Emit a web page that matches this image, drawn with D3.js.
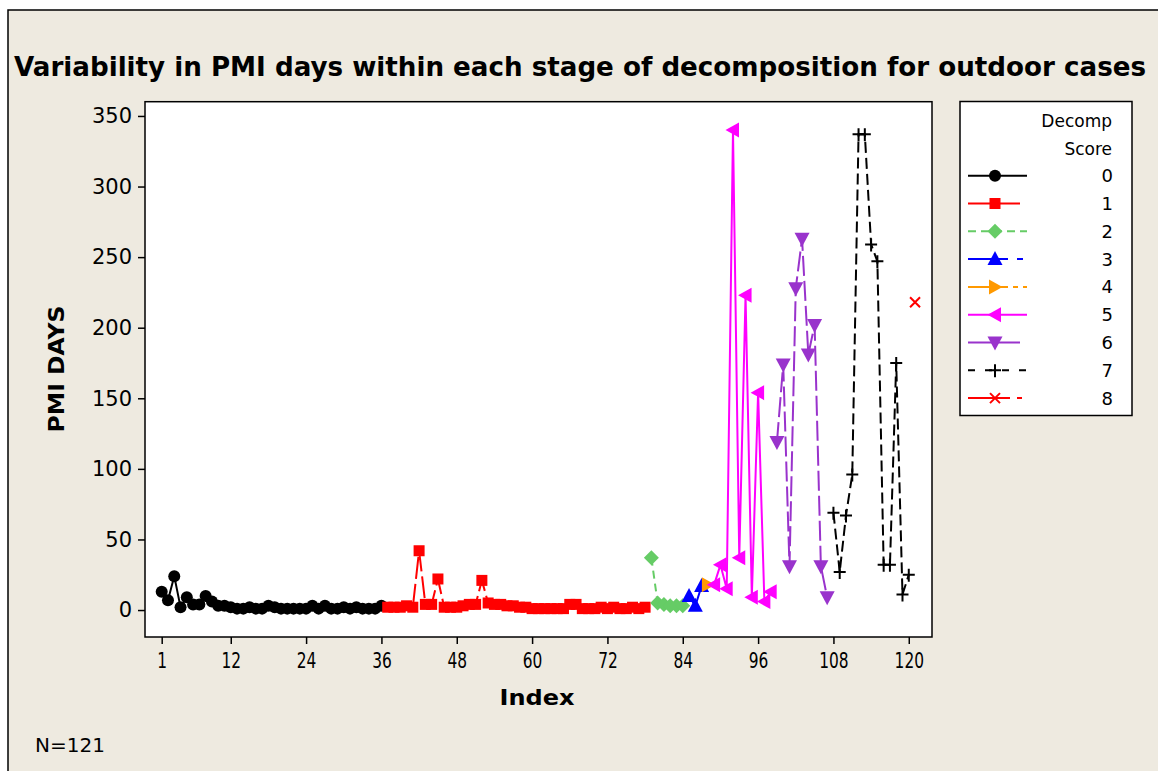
<!DOCTYPE html>
<html><head><meta charset="utf-8">
<script src="https://cdn.jsdelivr.net/npm/d3@7"></script>
<style>body{margin:0;background:#fff} svg{display:block}</style>
</head><body><svg id="c" width="1158" height="771"></svg>
<script>
// ---- data ----
const scores = ["0","1","2","3","4","5","6","7","8"];
const startIndex = [1, 37, 79, 85, 88, 89, 99, 108, 121];
const score0 = [13,7,24,2,9,4,4,10,6,3, 3,2,1,1,2,1,1,3,2,1,1,1,1,1,3,1,3,1,1,2,1,2,1,1,1,3];
const score1 = [2,2,2,3,2,42,4,4,22,2,2,2,3,4,4,21,5,4,4,3,3,2,2,1,1,1,1,1,1,4,4,1,1,1,2,1,2,1,1,2,1,2];
const score2 = [37,5,4,3,3,3];
const score3 = [10,3,17];
const score4 = [18];
const score5 = [18,32,15,340,37,223,9,154,6,13];
const score6 = [119,174,31,228,263,181,202,31,9];
const score7 = [69,27,67,96,337,337,259,247,32,32,175,11,25];
const score8 = [218];
const seriesValues = [score0,score1,score2,score3,score4,score5,score6,score7,score8];
const xTicks = [1,12,24,36,48,60,72,84,96,108,120];
const yTicks = [0,50,100,150,200,250,300,350];
const titleText = "Variability in PMI days within each stage of decomposition for outdoor cases";
const xLabel = "Index", yLabel = "PMI DAYS", noteText = "N=121";

// ---- styles ----
const colors = ["#000000","#FF0000","#66CC66","#0000FF","#FF9900","#FF00FF","#9933CC","#000000","#FF0000"];
const plotDash = [null,"22,5","8,5","40,9,6,9","40,5,5,5",null,"20,5","11,5","42,7,5,7"];
const legendDash = [null,"52,8","8,5","40,9,6,9","40,5,5,5",null,"52,8","7,10","42,7,5,7"];
const font = "'DejaVu Sans', Verdana, sans-serif";

const svg = d3.select("#c");
svg.append("rect").attr("x",8).attr("y",10).attr("width",1170).attr("height",790)
  .attr("fill","#EEEAE0").attr("stroke","#000").attr("stroke-width",1.5);

const L=145,R=932,T=101.7,B=637;
const x = d3.scaleLinear().domain([-1.66,123.7]).range([L,R]);
const y = d3.scaleLinear().domain([-19.1,360.1]).range([B,T]);

svg.append("rect").attr("x",L).attr("y",T).attr("width",R-L).attr("height",B-T)
  .attr("fill","#fff").attr("stroke","#000").attr("stroke-width",1.5);

// title
svg.append("text").attr("x",580).attr("y",76).attr("text-anchor","middle")
  .attr("font-family",font).attr("font-weight","bold").attr("font-size",26)
  .attr("textLength",1132).attr("lengthAdjust","spacingAndGlyphs").text(titleText);

// axes
const xAxis = d3.axisBottom(x).tickValues(xTicks).tickSize(7).tickSizeOuter(0).tickPadding(5);
const gx = svg.append("g").attr("transform",`translate(0,${B})`).call(xAxis);
gx.select(".domain").remove();
gx.selectAll("line").attr("stroke","#000").attr("stroke-width",1.5);
gx.selectAll("text").attr("font-family",font).attr("font-size",22).attr("fill","#000")
  .attr("dy","0.85em")
  .attr("textLength",d=>String(d).length*9.8).attr("lengthAdjust","spacingAndGlyphs");

const yAxis = d3.axisLeft(y).tickValues(yTicks).tickSize(7).tickSizeOuter(0).tickPadding(6);
const gy = svg.append("g").attr("transform",`translate(${L},0)`).call(yAxis);
gy.select(".domain").remove();
gy.selectAll("line").attr("stroke","#000").attr("stroke-width",1.5);
gy.selectAll("text").attr("font-family",font).attr("font-size",21).attr("fill","#000");

svg.append("text").attr("x",537).attr("y",705).attr("text-anchor","middle")
  .attr("font-family",font).attr("font-weight","bold").attr("font-size",22)
  .attr("textLength",75).attr("lengthAdjust","spacingAndGlyphs").text(xLabel);
svg.append("text").attr("transform","translate(64,369) rotate(-90)").attr("text-anchor","middle")
  .attr("font-family",font).attr("font-weight","bold").attr("font-size",22)
  .attr("textLength",127).attr("lengthAdjust","spacingAndGlyphs").text(yLabel);
svg.append("text").attr("x",35).attr("y",752)
  .attr("font-family",font).attr("font-size",20).attr("textLength",70)
  .attr("lengthAdjust","spacingAndGlyphs").text(noteText);

// marker drawing
function marker(g, k, cx, cy){
  const c = colors[k];
  const s = g.append("g").attr("transform",`translate(${cx},${cy})`);
  switch(k){
    case 0: s.append("circle").attr("r",6).attr("fill",c); break;
    case 1: s.append("rect").attr("x",-5.5).attr("y",-5.5).attr("width",11).attr("height",11).attr("fill",c); break;
    case 2: s.append("path").attr("d","M0,-7.5L7.5,0L0,7.5L-7.5,0Z").attr("fill",c); break;
    case 3: s.append("path").attr("d","M0,-8L7.5,6L-7.5,6Z").attr("fill",c); break;
    case 4: s.append("path").attr("d","M7.5,0L-6,-7.5L-6,7.5Z").attr("fill",c); break;
    case 5: s.append("path").attr("d","M-7.5,0L6,-7.5L6,7.5Z").attr("fill",c); break;
    case 6: s.append("path").attr("d","M0,8L7.5,-6L-7.5,-6Z").attr("fill",c); break;
    case 7: s.append("path").attr("d","M-6,0L6,0M0,-6L0,7").attr("stroke",c).attr("stroke-width",2).attr("fill","none"); break;
    case 8: s.append("path").attr("d","M-5,-5L5,5M-5,5L5,-5").attr("stroke",c).attr("stroke-width",2).attr("fill","none"); break;
  }
}

// series
const line = d3.line().x(d=>x(d[0])).y(d=>y(d[1]));
const plot = svg.append("g");
seriesValues.forEach((vals,k)=>{
  const pts = vals.map((v,i)=>[startIndex[k]+i, v]);
  if(pts.length>1){
    plot.append("path").datum(pts).attr("d",line).attr("fill","none")
      .attr("stroke",colors[k]).attr("stroke-width",2)
      .attr("stroke-dasharray",plotDash[k]);
  }
});
seriesValues.forEach((vals,k)=>{
  vals.forEach((v,i)=>marker(plot,k,x(startIndex[k]+i),y(v)));
});

// legend
const lg = svg.append("g");
lg.append("rect").attr("x",960).attr("y",101.5).attr("width",172).attr("height",314)
  .attr("fill","#fff").attr("stroke","#000").attr("stroke-width",1.5);
lg.append("text").attr("x",1112).attr("y",127).attr("text-anchor","end")
  .attr("font-family",font).attr("font-size",17).text("Decomp");
lg.append("text").attr("x",1112).attr("y",155).attr("text-anchor","end")
  .attr("font-family",font).attr("font-size",17).text("Score");
scores.forEach((s,k)=>{
  const cy = 175.7 + k*27.8;
  lg.append("line").attr("x1",968).attr("x2",1027).attr("y1",cy).attr("y2",cy)
    .attr("stroke",colors[k]).attr("stroke-width",2).attr("stroke-dasharray",legendDash[k]);
  marker(lg,k,995,cy);
  lg.append("text").attr("x",1113).attr("y",cy+6.5).attr("text-anchor","end")
    .attr("font-family",font).attr("font-size",18).text(s);
});
</script></body></html>
